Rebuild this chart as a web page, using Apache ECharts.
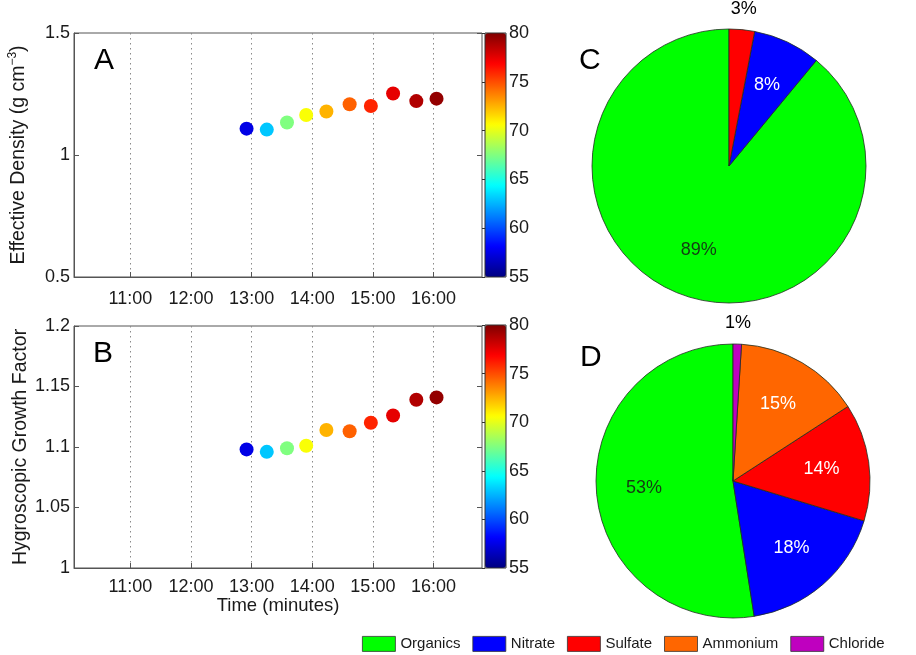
<!DOCTYPE html>
<html>
<head>
<meta charset="utf-8">
<script src="https://cdn.jsdelivr.net/npm/echarts@6.0.0/dist/echarts.min.js"></script>
<style>
  html, body { margin: 0; padding: 0; background: #ffffff; }
  #chart { width: 916px; height: 655px; }
</style>
</head>
<body>
<div id="chart"></div>
<script>
// ---- Data ----
const sampleTimes = ['12:55', '13:15', '13:35', '13:54', '14:14', '14:37', '14:58', '15:20', '15:43', '16:03'];
const effectiveDensity = [1.108, 1.104, 1.133, 1.164, 1.178, 1.208, 1.201, 1.252, 1.221, 1.231];
const growthFactor = [1.098, 1.096, 1.099, 1.101, 1.114, 1.113, 1.120, 1.126, 1.139, 1.141];
const colorValues = [57.5, 63, 67.5, 70.5, 72.5, 74.5, 76, 77.5, 78.8, 79.5];
const hourTicks = [11, 12, 13, 14, 15, 16];

const components = ['Organics', 'Nitrate', 'Sulfate', 'Ammonium', 'Chloride'];
const compositionC = [89, 8, 3, 0, 0];
const compositionD = [53, 18, 14, 15, 1];

// ---- Styling ----
const FONT = 'Liberation Sans, Arial, Helvetica, sans-serif';
const pieColors = ['#00ff00', '#0000ff', '#ff0000', '#ff6600', '#bf00bf'];
const labelColors = ['#143c14', '#ffffff', '#ffffff', '#ffffff', '#ffffff'];
const jet = ['#000080', '#0000ff', '#0080ff', '#00ffff', '#80ff80', '#ffff00', '#ff8000', '#ff0000', '#800000'];
const axisColor = '#555';
const textColor = '#1a1a1a';

function toHours(t) {
  const p = t.split(':');
  return Number(p[0]) + Number(p[1]) / 60;
}

const scatterA = sampleTimes.map((t, i) => [toHours(t), effectiveDensity[i], colorValues[i]]);
const scatterB = sampleTimes.map((t, i) => [toHours(t), growthFactor[i], colorValues[i]]);

function pieData(vals) {
  return components.map((n, i) => ({ name: n, value: vals[i], itemStyle: { color: pieColors[i] } }))
    .filter(d => d.value > 0);
}
function labelData(vals, outer) {
  return components.map((n, i) => {
    const small = vals[i] < 5;
    const show = outer ? small : !small;
    return {
      name: n, value: vals[i],
      label: { show: show, color: small ? '#000000' : labelColors[i] }
    };
  }).filter(d => d.value > 0);
}

const pieCenterC = [729, 166], pieCenterD = [733, 481], pieR = 137;

function mainPie(center, vals) {
  return {
    type: 'pie', center: center, radius: pieR, clockwise: false, startAngle: 90,
    data: pieData(vals), label: { show: false }, labelLine: { show: false },
    itemStyle: { borderColor: '#1e2e1e', borderWidth: 0.8 },
    emphasis: { disabled: true }, avoidLabelOverlap: false
  };
}
function labelPie(center, vals, outer) {
  return {
    type: 'pie', center: center, radius: outer ? pieR * 2.26 : pieR * 1.26,
    clockwise: false, startAngle: 90, silent: true, legendHoverLink: false,
    avoidLabelOverlap: false, z: 5,
    data: labelData(vals, outer),
    itemStyle: { color: 'transparent', borderWidth: 0 },
    label: { position: 'inside', formatter: '{c}%', fontSize: 18, fontFamily: FONT },
    labelLine: { show: false },
    emphasis: { disabled: true }
  };
}

function timeAxis(gridIndex, withName, margin) {
  return {
    gridIndex: gridIndex, type: 'value', min: 10.07, max: 16.8,
    axisLine: { show: true, onZero: false, lineStyle: { color: axisColor } },
    axisTick: { show: true, inside: true, length: 5, customValues: hourTicks, lineStyle: { color: axisColor } },
    axisLabel: { customValues: hourTicks, formatter: v => Math.round(v) + ':00', fontSize: 18, color: textColor, fontFamily: FONT, margin: margin },
    splitLine: { show: true, lineStyle: { type: [1.5, 3.5], color: '#8a8a8a', width: 1 } },
    name: withName ? 'Time (minutes)' : '', nameLocation: 'middle', nameGap: 28,
    nameTextStyle: { fontSize: 18.5, color: textColor, fontFamily: FONT }
  };
}
function valueAxis(gridIndex, min, max, interval, name) {
  return {
    gridIndex: gridIndex, type: 'value', min: min, max: max, interval: interval,
    axisLine: { show: true, lineStyle: { color: axisColor } },
    axisTick: { show: true, inside: true, length: 5, lineStyle: { color: axisColor } },
    axisLabel: { fontSize: 18, color: textColor, fontFamily: FONT, margin: 4 },
    splitLine: { show: false },
    name: name, nameLocation: 'middle', nameGap: 43, nameRotate: 90,
    nameTextStyle: { fontSize: 19.5, color: textColor, fontFamily: FONT, rich: {
      n: { fontSize: 19.5, color: textColor, fontFamily: FONT },
      s: { fontSize: 12, color: textColor, fontFamily: FONT, verticalAlign: 'top', lineHeight: 24 }
    } }
  };
}
function rightTickAxis(gridIndex, min, max, interval) {
  return {
    gridIndex: gridIndex, type: 'value', min: min, max: max, interval: interval, position: 'right',
    axisLine: { show: false },
    axisTick: { show: true, inside: true, length: 5, lineStyle: { color: axisColor } },
    axisLabel: { show: false }, splitLine: { show: false }
  };
}
function cbAxis(gridIndex) {
  return {
    gridIndex: gridIndex, type: 'value', min: 55, max: 80, interval: 5, position: 'right', z: 10,
    axisLine: { show: false },
    axisTick: { show: true, inside: true, length: 3, lineStyle: { color: '#333' } },
    axisLabel: { fontSize: 18, color: textColor, fontFamily: FONT, margin: 3 },
    splitLine: { show: false }
  };
}

const letterStyle = { fontSize: 30, fontWeight: 'normal', color: '#000', fontFamily: FONT };

const option = {
  backgroundColor: '#ffffff',
  animation: false,
  title: [
    { text: 'A', left: 89, top: 41, textStyle: letterStyle },
    { text: 'B', left: 88, top: 334, textStyle: letterStyle },
    { text: 'C', left: 574, top: 41, textStyle: letterStyle },
    { text: 'D', left: 575, top: 338, textStyle: letterStyle }
  ],
  grid: [
    { left: 74, top: 33, width: 408, height: 244, show: true, borderColor: axisColor, borderWidth: 1, backgroundColor: 'transparent' },
    { left: 74, top: 326, width: 408, height: 242, show: true, borderColor: axisColor, borderWidth: 1, backgroundColor: 'transparent' },
    { left: 485, top: 33, width: 21, height: 244, show: true, borderColor: '#333', borderWidth: 1, backgroundColor: 'transparent', z: 10 },
    { left: 485, top: 325, width: 21, height: 243, show: true, borderColor: '#333', borderWidth: 1, backgroundColor: 'transparent', z: 10 }
  ],
  xAxis: [
    timeAxis(0, false, 13),
    timeAxis(1, true, 10),
    { gridIndex: 2, type: 'value', show: false, min: 0, max: 1 },
    { gridIndex: 3, type: 'value', show: false, min: 0, max: 1 }
  ],
  yAxis: [
    valueAxis(0, 0.5, 1.5, 0.5, '{n|Effective Density (g cm}{s|−3}{n|)}'),
    valueAxis(1, 1, 1.2, 0.05, 'Hygroscopic Growth Factor'),
    cbAxis(2),
    cbAxis(3),
    rightTickAxis(0, 0.5, 1.5, 0.5),
    rightTickAxis(1, 1, 1.2, 0.05)
  ],
  visualMap: [
    { type: 'continuous', seriesIndex: 0, dimension: 2, min: 55, max: 80, left: 485, top: 33,
      itemWidth: 21, itemHeight: 244, padding: 0, calculable: false, text: null, hoverLink: false,
      inRange: { color: jet } },
    { type: 'continuous', seriesIndex: 1, dimension: 2, min: 55, max: 80, left: 485, top: 325,
      itemWidth: 21, itemHeight: 243, padding: 0, calculable: false, text: null, hoverLink: false,
      inRange: { color: jet } }
  ],
  legend: {
    data: components, left: 358, top: 632, padding: 4, icon: 'rect',
    itemWidth: 33, itemHeight: 15, itemGap: 12,
    textStyle: { fontSize: 15, color: textColor, fontFamily: FONT },
    itemStyle: { borderColor: '#333', borderWidth: 0.8 }
  },
  series: [
    { type: 'scatter', xAxisIndex: 0, yAxisIndex: 0, data: scatterA, symbolSize: 14, itemStyle: { opacity: 1 } },
    { type: 'scatter', xAxisIndex: 1, yAxisIndex: 1, data: scatterB, symbolSize: 14, itemStyle: { opacity: 1 } },
    mainPie(pieCenterC, compositionC),
    mainPie(pieCenterD, compositionD),
    labelPie(pieCenterC, compositionC, false),
    labelPie(pieCenterC, compositionC, true),
    labelPie(pieCenterD, compositionD, false),
    labelPie(pieCenterD, compositionD, true)
  ]
};

const chart = echarts.init(document.getElementById('chart'), null, { renderer: 'canvas' });
chart.setOption(option);
</script>
</body>
</html>
